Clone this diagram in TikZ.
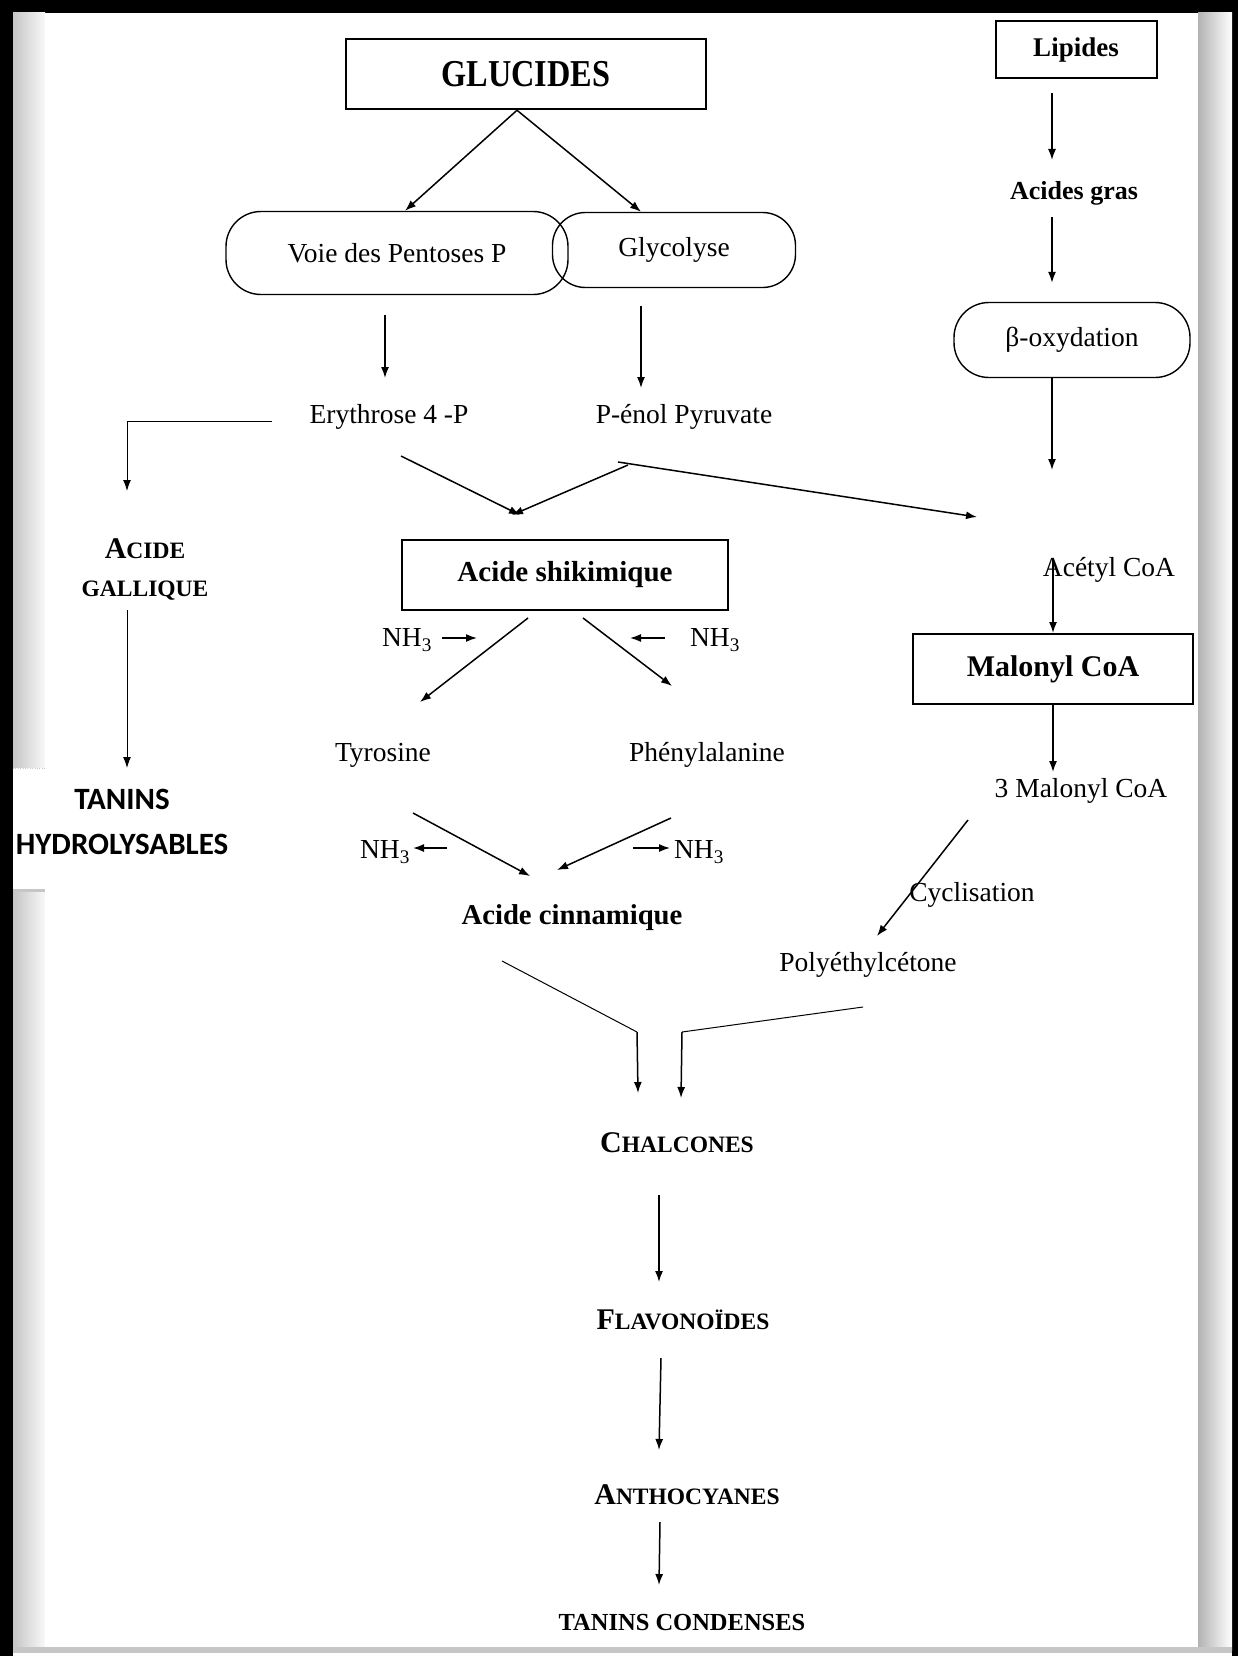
\documentclass[tikz,border=0pt]{standalone}
\usepackage{fontspec}
\setmainfont{Liberation Serif}
\newfontfamily\calibfont{Carlito}
\newfontfamily\narrowfont{Liberation Serif}[FakeStretch=0.85]
\usetikzlibrary{arrows.meta, calc}

\newcommand{\normtxt}{\fontsize{27.5}{31}\selectfont}
\newcommand{\bfont}[1]{\fontsize{#1}{#1}\selectfont\bfseries}
\newcommand{\scfont}{\fontsize{30}{38}\selectfont\bfseries}
\newcommand{\petit}[1]{{\fontsize{23.5}{38}\selectfont #1}}
\newcommand{\hydfont}{\calibfont\bfseries\fontsize{31}{45}\selectfont}

\tikzset{
  box/.style={draw, line width=2pt, inner sep=0pt},
  pill/.style={draw, line width=1.4pt, inner sep=0pt, font=\normtxt},
  lbl/.style={inner sep=0pt, font=\normtxt},
  arr/.style={line width=1.5pt, -{Latex[length=11pt, width=8pt]}},
  fil/.style={line width=1pt},
}

\begin{document}
\begin{tikzpicture}[x=1pt, y=-1pt]
  \useasboundingbox (0,0) rectangle (1238,1656);
  % cadre de la page
  \fill[black] (0,0) rectangle (1238,1656);
  \fill[white] (13,13) rectangle (1232,1656);
  \shade[left color=gray!45, right color=gray!5] (13,13) rectangle (45,1650);
  \shade[left color=gray!60, right color=white] (1198,13) rectangle (1232,1650);
  \fill[gray!45] (13,1647) rectangle (1232,1653);
  \fill[white] (45,13) rectangle (1198,1647);
  \fill[white] (13,768) rectangle (45,890);
  \draw[gray!40, dotted] (13,768) -- (45,768);
  \draw[gray!45, line width=3pt] (13,890) -- (45,890);

  % glucides
  \node[box, line width=2.5pt, minimum width=360, minimum height=70, font=\narrowfont\bfont{38}] (gluc) at (526,74) {GLUCIDES};
  \node[pill, rounded corners=35, minimum width=342, minimum height=83] (voie) at (397,253) {Voie des Pentoses P};
  \node[pill, rounded corners=33, minimum width=243, minimum height=75] (glyc) at (674,250) {Glycolyse};
  \node[lbl] (ery) at (389,417) {Erythrose 4 -P};
  \node[lbl] (pep) at (684,417) {P-énol Pyruvate};
  \node[lbl, align=center, font=\scfont] (gall) at (145,569) {A\petit{CIDE}\\\petit{GALLIQUE}};
  \node[lbl, align=center, font=\hydfont] (tanh) at (122,822) {TANINS\\HYDROLYSABLES};
  \node[box, minimum width=326, minimum height=70, font=\bfont{29}] (shik) at (565,575) {Acide shikimique};
  \node[lbl] (nhA) at (407,640) {NH\textsubscript{3}};
  \node[lbl] (nhB) at (715,640) {NH\textsubscript{3}};
  \node[lbl] (tyr) at (383,755) {Tyrosine};
  \node[lbl] (phe) at (707,755) {Phénylalanine};
  \node[lbl] (nhC) at (385,852) {NH\textsubscript{3}};
  \node[lbl] (nhD) at (699,852) {NH\textsubscript{3}};
  \node[lbl, font=\bfont{28.7}] (cinn) at (572,918) {Acide cinnamique};

  % lipides
  \node[box, minimum width=161, minimum height=57, font=\bfont{27}] (lip) at (1076,50) {Lipides};
  \node[lbl, font=\bfont{26}] (agras) at (1074,193) {Acides gras};
  \node[pill, rounded corners=35, minimum width=236, minimum height=75] (boxy) at (1072,340) {β-oxydation};
  \node[lbl] (acoa) at (1109,570) {Acétyl CoA};
  \node[box, minimum width=280, minimum height=70, font=\bfont{30}] (mal) at (1053,669) {Malonyl CoA};
  \node[lbl] (tmal) at (1081,791) {3 Malonyl CoA};
  \node[lbl] (cycl) at (972,895) {Cyclisation};
  \node[lbl] (poly) at (868,965) {Polyéthylcétone};

  % produits
  \node[lbl, font=\scfont] (chal) at (677,1143) {C\petit{HALCONES}};
  \node[lbl, font=\scfont] (flav) at (683,1320) {F\petit{LAVONOÏDES}};
  \node[lbl, font=\scfont] (anth) at (687,1495) {A\petit{NTHOCYANES}};
  \node[lbl, font=\bfont{24.5}] (tcond) at (682,1622) {TANINS CONDENSES};

  % fleches
  \draw[arr] ($(gluc.south)+(-9,0)$) -- ($(voie.north)+(8,0)$);
  \draw[arr] ($(gluc.south)+(-9,0)$) -- ($(glyc.north)+(-33,0)$);
  \draw[arr] ($(voie.south)+(-12,20)$) -- ($(ery)+(-4,-39)$);
  \draw[arr] ($(glyc.south)+(-33,18)$) -- ($(pep)+(-43,-29)$);
  \draw[fil, -{Latex[length=11pt, width=8pt]}] ($(ery)+(-117,4)$) -| ($(gall)+(-18,-78)$);
  \draw[fil, -{Latex[length=11pt, width=8pt]}] ($(gall)+(-18,41)$) -- ($(tanh)+(5,-54)$);
  \draw[arr] ($(ery)+(12,39)$) -- ($(shik)+(-45,-60)$);
  \draw[arr] ($(pep)+(-56,48)$) -- ($(shik)+(-53,-60)$);
  \draw[arr] ($(pep)+(-66,45)$) -- ($(acoa)+(-132,-53)$);
  \draw[arr] ($(shik.south)+(-37,7)$) -- ($(tyr)+(37,-53)$);
  \draw[arr] ($(shik.south)+(18,7)$) -- ($(phe)+(-35,-69)$);
  \draw[arr] ($(nhA)+(35,-2)$) -- ($(nhA)+(70,-2)$);
  \draw[arr] ($(nhB)+(-50,-2)$) -- ($(nhB)+(-85,-2)$);
  \draw[arr] ($(tyr)+(30,58)$) -- ($(cinn)+(-42,-42)$);
  \draw[arr] ($(phe)+(-36,63)$) -- ($(cinn)+(-15,-48)$);
  \draw[arr] ($(nhC)+(62,-4)$) -- ($(nhC)+(28,-4)$);
  \draw[arr] ($(nhD)+(-66,-4)$) -- ($(nhD)+(-29,-4)$);
  \draw[arr] ($(lip.south)+(-24,14)$) -- ($(agras)+(-22,-33)$);
  \draw[arr] ($(agras)+(-22,24)$) -- ($(boxy.north)+(-20,-19)$);
  \draw[arr] ($(boxy.south)+(-20,0)$) -- ($(acoa)+(-57,-100)$);
  \draw[arr] ($(acoa)+(-56,-11)$) -- (mal.north);
  \draw[arr] (mal.south) -- ($(tmal)+(-28,-19)$);
  \draw[arr] ($(tmal)+(-113,29)$) -- ($(poly)+(9,-29)$);
  \draw[fil] ($(cinn)+(-70,43)$) -- ($(chal)+(-40,-111)$);
  \draw[arr] ($(chal)+(-40,-111)$) -- ($(chal)+(-39,-50)$);
  \draw[fil] ($(poly)+(-5,42)$) -- ($(chal)+(5,-111)$);
  \draw[arr] ($(chal)+(5,-111)$) -- ($(chal)+(4,-45)$);
  \draw[arr] ($(chal)+(-18,52)$) -- ($(flav)+(-24,-38)$);
  \draw[arr] ($(flav)+(-22,38)$) -- ($(anth)+(-28,-45)$);
  \draw[arr] ($(anth)+(-27,27)$) -- ($(tcond)+(-23,-37)$);
\end{tikzpicture}
\end{document}
